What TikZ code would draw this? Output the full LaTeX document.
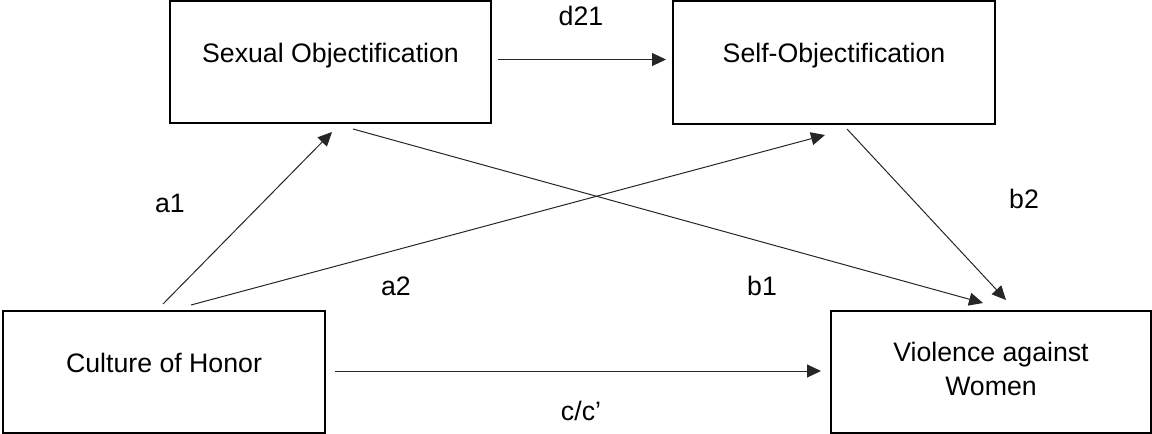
\documentclass[tikz,border=0pt]{standalone}
\usepackage{fontspec}
\setmainfont{Liberation Sans}
\usetikzlibrary{arrows.meta}
\begin{document}
\begin{tikzpicture}[x=1pt,y=-1pt,
  box/.style={draw=black, line width=1.8pt, rectangle, inner sep=0pt,
    minimum width=321pt, minimum height=122pt, align=center},
  onel/.style={text height=20pt, text depth=20pt},
  lbl/.style={inner sep=0pt, anchor=base},
  arr/.style={line width=1pt, draw=black!85, -{Triangle[length=14pt,width=13pt]}}]
\useasboundingbox (0,0) rectangle (1152,434);
\tikzset{every node/.append style={font=\fontsize{26.7pt}{34pt}\selectfont}}
\node[box,onel] (so) at (330.5,62) {Sexual Objectification};
\node[box,onel,minimum width=322pt,minimum height=123pt] (self) at (834,62.5) {Self-Objectification};
\node[box,onel,minimum width=322pt] (coh) at (164,372) {Culture of Honor};
\node[box,minimum width=320pt] (vaw) at (991,372) {\raisebox{7pt}{\begin{tabular}{@{}c@{}}Violence against\\Women\end{tabular}}};
% connector end points
\coordinate (d21s) at (498,59.5);
\coordinate (d21e) at (666,59.5);
\coordinate (a1s) at (163,304);
\coordinate (a1e) at (332,132);
\coordinate (a2s) at (191,305);
\coordinate (a2e) at (825,135);
\coordinate (b1s) at (353,129);
\coordinate (b1e) at (983,303);
\coordinate (b2s) at (847,129);
\coordinate (b2e) at (1006,300);
\coordinate (cs) at (335,371);
\coordinate (ce) at (821,371);
\draw[arr] (d21s) -- (d21e);
\draw[arr] (a1s) -- (a1e);
\draw[arr] (a2s) -- (a2e);
\draw[arr] (b1s) -- (b1e);
\draw[arr] (b2s) -- (b2e);
\draw[arr] (cs) -- (ce);
% labels
\node[lbl] (ld21) at (581,25) {d21};
\node[lbl] (la1) at (170,212) {a1};
\node[lbl] (la2) at (396,295) {a2};
\node[lbl] (lb1) at (762,295) {b1};
\node[lbl] (lb2) at (1024,208) {b2};
\node[lbl] (lc) at (581,420) {c/c’};
\end{tikzpicture}
\end{document}
